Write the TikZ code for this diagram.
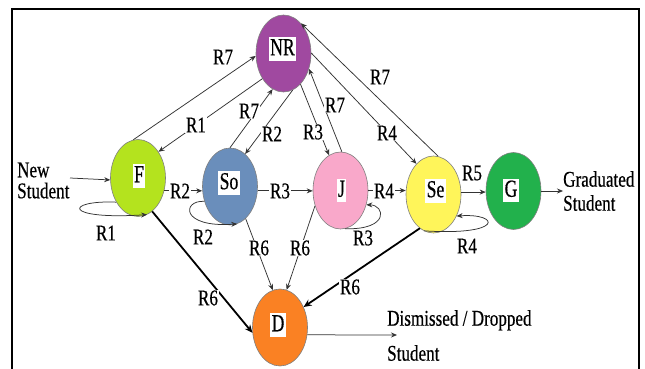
\documentclass[tikz,border=0pt]{standalone}
\usepackage{fontspec}
\setmainfont{Liberation Serif}
\newfontfamily\elfont[FakeStretch=0.76,FakeBold=0.4]{Liberation Serif}
\newfontfamily\nlfont[FakeStretch=0.72,FakeBold=0.5]{Liberation Serif}
\usetikzlibrary{shapes.geometric,arrows.meta}
\definecolor{cNR}{RGB}{160,73,160}
\definecolor{cF}{RGB}{180,227,30}
\definecolor{cSo}{RGB}{106,142,187}
\definecolor{cJ}{RGB}{249,168,202}
\definecolor{cSe}{RGB}{255,245,90}
\definecolor{cG}{RGB}{34,177,76}
\definecolor{cD}{RGB}{250,129,35}
\begin{document}
\begin{tikzpicture}[x=1pt,y=-1pt,
  st/.style={ellipse, draw=black!50, line width=0.6pt, minimum width=55pt, minimum height=77pt, inner sep=0pt},
  nlbl/.style={fill=white, inner xsep=1.2pt, inner ysep=1.5pt, text height=16.5pt, text depth=4pt, font=\nlfont\fontsize{24.5}{26}\selectfont},
  el/.style={fill=white, inner sep=0.8pt, font=\elfont\fontsize{22.5}{24}\selectfont},
  txt/.style={inner sep=0pt, align=left, font=\elfont\fontsize{22.5}{24}\selectfont},
  arr/.style={draw=black!80, line width=0.75pt, -{Stealth[length=6pt,width=5pt]}},
  thk/.style={draw=black, line width=1.8pt, -{Stealth[length=8pt,width=7pt]}},
]
\useasboundingbox (0,0) rectangle (645,369);
\fill[white] (0,0) rectangle (645,369);
\draw[line width=1.8pt] (12,369) -- (12,9) -- (639,9) -- (639,369);

% states
\node[st, fill=cNR] (NR) at (283.5,53.5) {};
\node[st, fill=cF]  (F)  at (138,178) {};
\node[st, fill=cSo] (So) at (230,186.5) {};
\node[st, fill=cJ]  (J)  at (340.5,190.5) {};
\node[st, fill=cSe] (Se) at (433.5,194.5) {};
\node[st, fill=cG]  (G)  at (513.5,191) {};
\node[st, fill=cD]  (D)  at (280,327.5) {};

\node[nlbl] (tNR) at (282.5,49) {NR};
\node[nlbl] (tF)  at (139,176) {F};
\node[nlbl] (tSo) at (229,183) {So};
\node[nlbl] (tJ)  at (341.5,190.5) {J};
\node[nlbl] (tSe) at (435.5,191) {Se};
\node[nlbl] (tG)  at (511,190.5) {G};
\node[nlbl] (tD)  at (278,325) {D};

% texts
\node[txt, anchor=west, font=\elfont\fontsize{22.5}{21}\selectfont] (NS) at (17,180.5) {New\\Student};
\node[txt, anchor=west] (Grad) at (563,191) {Graduated\\Student};
\node[txt, anchor=west] (Dis) at (387,335.5) {Dismissed / Dropped\\[11pt]Student};
\coordinate (nsStart) at (70,178);
\coordinate (dTip) at (397,335);

% edges with NR
\draw[arr] (F.97) -- (NR.185);
\draw[arr] (NR.230) -- (F.52);
\draw[arr] (So.90) -- (NR.253);
\draw[arr] (NR.284) -- (So.65);
\draw[arr] (NR.299) -- (J.108);
\draw[arr] (J.88) -- (NR.329);
\draw[arr] (NR.1) -- (Se.119);
\draw[arr] (Se.83.5) -- (NR.60);

% row
\draw[arr] (F.-26.6) -- (F.-26.6 -| So.west);
\draw[arr] (So.-9.4) -- (So.-9.4 -| J.west);
\draw[arr] (J.east) -- (J.east -| Se.west);
\draw[arr] (Se.5) -- (Se.5 -| G.west);
\draw[arr] (G.east) -- (Grad.west);
\draw[arr] (nsStart) -- (F.184);
\draw[arr] (D.-15.5) -- (dTip);

% to D
\draw[thk] (F.-67.6) -- (D.191);
\draw[thk] (Se.-112) -- (D.41.5);
\draw[arr] (So.-64.5) -- (D.101);
\draw[arr] (J.211) -- (D.80);

% self loops
\draw[arr] (F.228) .. controls (65,200) and (62,220) .. (F.-76);
\draw[arr] (So.210) .. controls (182,200) and (180,228) .. (So.-79);
\draw[arr] (J.-83) .. controls (390,230) and (385,205) .. (J.-29);
\draw[arr] (Se.-105) .. controls (505,236) and (500,213) .. (Se.-43);

% edge labels
\node[el] (l1) at (223,57) {R7};
\node[el] (l2) at (196,125) {R1};
\node[el] (l3) at (249,111) {R7};
\node[el] (l4) at (272,134) {R2};
\node[el] (l5) at (313,132) {R3};
\node[el] (l6) at (335,105) {R7};
\node[el] (l7) at (387,133) {R4};
\node[el] (l8) at (380,77) {R7};
\node[el] (l9) at (180,191) {R2};
\node[el] (l10) at (280,191) {R3};
\node[el] (l11) at (384,191) {R4};
\node[el] (l12) at (472,173) {R5};
\node[el] (l13) at (106,233) {R1};
\node[el] (l14) at (203,237) {R2};
\node[el] (l15) at (363,238) {R3};
\node[el] (l16) at (467,246) {R4};
\node[el] (l17) at (259,248) {R6};
\node[el] (l18) at (300,248) {R6};
\node[el] (l19) at (208,298) {R6};
\node[el] (l20) at (350,287) {R6};
\end{tikzpicture}
\end{document}
